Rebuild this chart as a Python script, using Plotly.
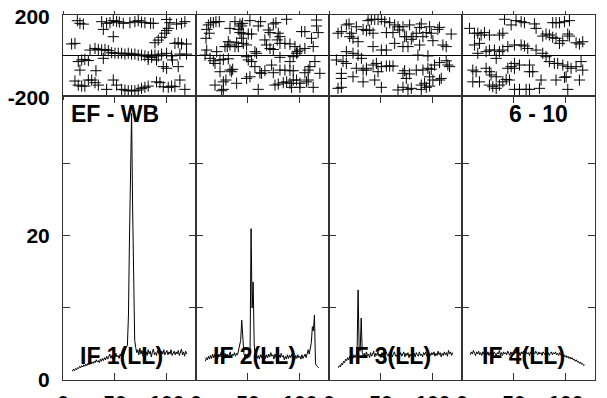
import plotly.graph_objects as go
from plotly.subplots import make_subplots

# ---------------- data ----------------
# Phase (deg) scatter per IF: channel, phase
ph1_ch = [13.8,16.3,19.6,37.2,42,45.2,48.4,51.6,54.2,58,64.4,69.2,72.4,75.6,78.8,84.3,86.9,99.7,102.9,109.3,114.1,117.3,
          38.8,48.4,8.3,11.5,88.5,91.7,94.9,98,99.7,101.3,107.7,110.9,114.1,118.9,
          26,30.8,34,37.2,40.4,43.6,46.8,50,53.2,56.4,59.6,62.8,66,69.2,72.4,75.6,78.8,82,85.3,88.5,91.7,94.9,99.7,104.5,112.5,118.9,
          38.8,14.7,18,21,24.4,16.3,31.7,90,96.5,99.7,105.4,110.9,82,85.3,
          11.5,14.7,18,21,24.4,27.6,30.8,34,42,48.4,51.6,56.4,59.6,62.8,66,69.2,72.4,75.6,78.8,82,90,93.3,96.5,101.3,104.5,107.7,112.5,117.3]
ph1_val = [172,159,155,167,159,162,172,168,165,159,162,167,172,165,162,159,159,178,162,155,159,167,
           129,93,57,60,63,76,90,110,123,134,60,63,57,57,
           27,35,30,27,30,24,14,11,11,11,7,11,7,7,2,2,-2,-6,2,2,-2,7,11,-2,7,7,
           -14,-30,-22,-19,-25,-72,-75,-22,-55,-63,-22,-55,-19,-9,
           -126,-146,-151,-151,-121,-121,-134,-146,-167,-121,-146,-167,-170,-174,-174,-174,-170,-162,-157,-151,-130,-134,-154,-157,-151,-154,-121,-167]

ph2_ch = [11.9,14.1,16.7,19.2,22.4,10.3,12.8,9.6,37.5,42.3,43.9,44.9,51.9,59.9,62.2,69.6,71.2,74.4,76.9,79.2,80.8,87.2,101.6,104.8,116,116,117.6,
          32.7,40.7,42.3,45.5,50.3,53.5,31.1,39.1,43.9,45.5,48.7,27.9,30.1,32.7,37.5,40.7,66.3,67.9,71.2,74.4,78.2,80.8,85.6,90.4,95.2,97.4,100,104.8,111.2,112.8,
          10.3,19.9,56.7,58.3,8.7,13.5,16.7,18.3,23.1,26.3,31.1,48.7,50.3,53.5,56.7,61.5,63.1,72.8,80.8,90.4,93.6,96.8,108,109.6,114.4,119.2,
          23.1,32.7,35.3,34.3,48.7,51.9,66.3,74.4,80.8,85.6,90.4,93.6,104.8,
          18.3,26.3,28.8,39.1,26.3,24.7,59.9,76,79.2,84,87.2,90.4,93.6,96.8,100,92,100,106.4,108,112.8]
ph2_val = [151,162,162,167,167,129,110,85,167,156,146,159,172,146,167,126,113,156,162,110,93,179,118,118,175,146,113,
           134,129,113,110,106,106,68,63,85,60,52,44,44,52,44,44,77,52,35,30,77,60,60,57,44,19,27,35,85,44,
           27,19,19,11,2,-14,-26,-39,-22,-19,-16,-6,-22,-30,-55,-85,-88,-47,-9,-30,-6,11,-72,-55,-30,-88,
           -80,-72,-68,-80,-113,-105,-75,-85,-72,-72,-75,-75,-85,
           -146,-130,-121,-137,-167,-174,-167,-146,-141,-134,-130,-137,-121,-121,-137,-157,-157,-130,-121,-157]

ph3_ch = [8.7,11.9,16.7,19.3,21.5,23.1,19.9,26.3,28,32.8,37.6,40.8,44,47.2,50.4,53.6,58.4,63.2,66.4,36,39.2,42.4,55.2,61.6,63.2,42.4,50.4,55.2,
          16.7,23.1,28,31.2,7.1,13.5,16.7,26.3,32.8,36,42.4,45.6,50.4,55.2,58.4,61.6,11.9,23.1,11.9,32.8,44,11.9,8.7,50.4,66.4,36,47.2,
          68,71.2,72.8,74.4,77.6,79.2,80.8,84,87.2,88.8,90.4,93.6,96.8,98.4,100,104.8,106.4,109.6,112.8,117.6,71.2,76,87.2,85.6,95.2,
          72.8,71.2,77.6,74.4,84,90.4,95.2,98.4,101.6,106.4,112.8,114.4,116,96.8,100,106.4,108,92,88.8,71.2,76,79.2,88.8,93.6,96.8]
ph3_val = [110,118,151,156,110,85,93,142,68,129,172,179,178,178,179,167,162,151,142,123,126,110,113,113,60,44,27,27,
           19,11,2,-14,-22,-30,-39,-63,-72,-72,-47,-39,-55,-52,-52,-52,-88,-105,-113,-130,-121,-157,-162,-157,-170,-63,-80,
           126,142,93,93,151,80,93,110,139,156,93,113,142,110,73,129,139,52,44,106,44,44,52,2,-2,
           -75,-88,-91,-113,-72,-72,-63,-68,-47,-35,-26,-47,-55,-105,-121,-121,-113,-137,-146,-157,-167,-162,-167,-157,-151]

ph4_ch = [7.2,12,15.2,18.4,21.6,26.4,36,39.3,40.9,47.3,52,56.9,60.1,69.7,71.3,87.3,90.5,93.8,98.6,103.4,101.8,77.7,80.9,84.1,87.3,90.5,93.8,97,103.4,109.8,113,116.2,
          12,16.8,23.2,26.4,31.2,36,39.3,44.1,50.5,56.9,60.1,63.3,71.3,77.7,80.9,15.2,
          32.9,50.5,55.3,64.9,84.1,88.9,92.1,97,101.8,105,109.8,114.6,116.2,
          10.4,13.6,23.2,26.4,28,32.9,39.3,42.5,45.7,44.1,47.3,50.5,64.9,68.1,76.1,90.5,98.6,101.8,
          10.4,16.8,26.4,29.6,32.9,36,50.5,55.3,61.7,64.9,74.5,100.2,113]
ph4_val = [134,110,110,101,113,101,101,110,179,151,172,167,162,156,134,162,162,162,167,172,106,96,106,101,90,85,60,73,96,63,57,68,
           52,60,19,27,27,19,27,44,52,52,47,35,27,11,-6,11,
           -14,-39,-47,-47,-30,-39,-39,-47,-55,-63,-55,-30,-72,
           -72,-80,-63,-80,-96,-105,-130,-118,-121,-63,-55,-63,-80,-80,-121,-121,-108,-167,
           -130,-130,-146,-154,-162,-146,-167,-167,-167,-167,-162,-105,-121]

# Amplitude spectra
amp1_ch = list(range(9, 120))
amp1 = [1.2,1.5,1.3,1.6,1.4,1.7,1.6,1.9,1.7,2.0,1.8,
        2.1,1.9,2.2,2.0,2.3,2.1,2.4,2.2,2.5,2.3,
        2.6,2.4,2.8,2.5,2.7,2.4,2.9,2.6,3.0,2.7,
        3.1,2.8,3.3,2.9,3.2,3.6,3.0,3.4,2.9,3.5,
        3.1,3.7,3.2,3.4,3.0,3.6,3.3,3.8,3.4,3.9,
        4.2,4.6,4.8,9.0,20,30,37,24,10,5.5,
        4.5,3.8,4.2,3.5,4.4,3.6,4.1,3.3,4.3,3.7,
        3.9,3.4,4.2,3.6,4.0,3.2,3.9,4.3,3.5,3.8,
        3.4,4.1,3.7,3.9,3.3,4.0,3.6,4.2,3.5,3.8,
        4.1,3.5,3.9,3.6,4.2,3.4,3.8,4.0,3.5,3.9,
        3.6,4.1,3.4,3.8,4.3,3.5,3.9,3.3,4.0,3.6]

amp2_ch = list(range(9, 119))
amp2 = [2.6,3.1,2.8,3.3,2.9,3.4,3.0,3.6,3.1,3.5,2.9,
        3.4,3.0,3.6,3.2,3.8,3.3,3.5,3.0,3.7,3.3,
        3.6,3.1,3.5,3.9,3.2,3.6,3.4,3.8,3.3,3.7,
        3.5,4.2,5.0,5.5,8.3,5.2,3.8,3.2,3.6,3.0,
        3.4,3.1,3.3,21,10,13.6,5.0,3.2,3.6,3.0,
        3.4,2.9,3.5,3.1,3.7,3.2,3.6,3.0,3.5,3.1,
        3.6,3.2,3.8,3.3,3.5,2.9,3.6,3.1,3.4,3.0,
        3.5,3.1,3.7,3.2,3.4,2.8,3.3,2.9,3.5,3.0,
        3.4,3.1,3.6,3.0,3.3,2.8,3.4,3.0,3.5,3.1,
        3.3,2.9,3.5,3.0,3.4,3.6,3.1,3.8,4.2,3.6,
        4.5,5.2,7.4,6.8,9.0,2.3,2.0,1.9,1.7]

amp3_ch = list(range(9, 120))
amp3 = [1.7,2.0,1.8,2.3,2.1,2.6,2.4,2.9,2.7,3.1,2.8,
        3.3,2.9,3.4,3.0,3.5,3.1,3.6,3.8,12.5,4.5,
        4.0,8.6,3.8,3.4,3.7,3.2,3.9,3.4,3.6,3.1,
        3.8,3.3,3.6,4.0,3.2,3.7,3.4,3.9,3.3,3.6,
        3.1,3.8,3.4,3.7,3.2,3.9,3.5,3.3,3.8,3.4,
        3.7,3.2,3.6,3.9,3.3,3.5,3.0,3.7,3.4,3.8,
        3.3,3.6,3.9,3.2,3.7,3.4,3.8,3.1,3.6,3.3,
        3.9,3.4,3.7,3.2,3.8,3.5,3.3,3.9,3.4,3.6,
        3.2,3.8,3.5,3.9,3.3,3.6,3.1,3.7,3.4,3.8,
        3.5,3.9,3.3,3.7,3.4,4.0,3.5,3.8,3.2,3.7,
        3.4,3.9,3.5,3.8,3.3,4.1,3.6,3.9,3.4,3.8]

amp4_ch = list(range(8, 119))
amp4 = [3.5,3.9,3.6,4.1,3.7,3.4,3.9,3.6,4.0,3.5,3.8,3.4,
        3.9,3.6,4.1,3.7,3.5,3.9,3.4,3.8,3.6,4.0,
        3.5,3.9,3.7,3.4,3.8,3.6,4.1,3.5,3.8,3.4,
        3.9,3.6,3.8,3.5,4.0,3.7,3.4,3.9,3.6,3.8,
        3.5,3.9,3.7,4.1,3.6,3.8,3.4,3.9,3.6,4.0,
        3.7,3.5,3.9,3.6,3.8,3.4,3.9,3.7,3.5,3.8,
        3.6,4.0,3.7,3.5,3.9,3.6,3.8,3.4,3.9,3.7,
        3.5,3.9,3.6,3.8,3.4,3.7,3.9,3.5,3.8,3.6,
        3.9,3.5,3.7,3.4,3.8,3.5,3.6,3.3,3.5,3.2,
        3.4,3.1,3.3,3.0,3.2,2.9,3.1,2.8,2.9,2.6,
        2.8,2.5,2.6,2.3,2.5,2.2,2.3,2.0,2.1]

if_labels = ["IF 1(LL)", "IF 2(LL)", "IF 3(LL)", "IF 4(LL)"]
title_left = "EF - WB"
title_right = "6 - 10"
x_ticks = [0, 50, 100]
x_ticktext = ["0", "50", "100"]
amp_ticks = [0, 10, 20, 30]
amp_ticktext = ["0", "", "20", ""]
ph_ticks = [-200, 200]
ph_ticktext = ["-200", "200"]

# ---------------- figure ----------------
phase = [(ph1_ch, ph1_val), (ph2_ch, ph2_val), (ph3_ch, ph3_val), (ph4_ch, ph4_val)]
amps = [(amp1_ch, amp1), (amp2_ch, amp2), (amp3_ch, amp3), (amp4_ch, amp4)]

fig = make_subplots(rows=2, cols=4, row_heights=[0.222, 0.778],
                    horizontal_spacing=0, vertical_spacing=0)

FONT = "Liberation Sans, Arial, sans-serif"
tfont = dict(family=FONT, size=21, color="black", weight="bold")
for i in range(4):
    c = i + 1
    fig.add_trace(go.Scatter(x=phase[i][0], y=phase[i][1], mode="markers",
                             marker=dict(symbol="cross-thin", size=8,
                                         line=dict(color="black", width=1)),
                             showlegend=False, cliponaxis=True), row=1, col=c)
    fig.add_trace(go.Scatter(x=amps[i][0], y=amps[i][1], mode="lines",
                             line=dict(color="black", width=1),
                             showlegend=False), row=2, col=c)

    fig.update_xaxes(range=[0, 128], tickvals=x_ticks, showticklabels=False,
                     ticks="outside", ticklen=3, tickcolor="#333",
                     showline=True, linecolor="#333", linewidth=1, mirror="ticks",
                     showgrid=False, zeroline=False, automargin=False, row=1, col=c)
    fig.update_yaxes(range=[-200, 200], tickvals=ph_ticks, ticktext=ph_ticktext,
                     showticklabels=(c == 1), ticks="",
                     showline=True, linecolor="#333", linewidth=1, mirror=True,
                     showgrid=False, zeroline=True, zerolinecolor="black", zerolinewidth=1,
                     tickfont=tfont, ticklabelstandoff=8, ticklabelshift=2,
                     ticklabeloverflow="allow", automargin=False, row=1, col=c)
    fig.update_xaxes(range=[0, 128], tickvals=x_ticks, ticktext=x_ticktext, showticklabels=True,
                     ticks="inside", ticklen=7, tickcolor="#333",
                     showline=True, linecolor="#333", linewidth=1, mirror="allticks",
                     showgrid=False, zeroline=False,
                     tickfont=tfont, ticklabelstandoff=4, ticklabeloverflow="allow",
                     automargin=False, row=2, col=c)
    fig.update_yaxes(range=[0, 39.4], tickvals=amp_ticks, ticktext=amp_ticktext,
                     showticklabels=(c == 1), ticks="inside", ticklen=7, tickcolor="#333",
                     showline=True, linecolor="#333", linewidth=1, mirror="allticks",
                     showgrid=False, zeroline=False,
                     tickfont=tfont, ticklabelstandoff=8, ticklabeloverflow="allow",
                     automargin=False, row=2, col=c)

ann_font = dict(family=FONT, size=23, color="black", weight="bold")
annotations = [
    dict(text=title_left, x=0.0113, y=0.729, xref="paper", yref="paper",
         xanchor="left", yanchor="middle", showarrow=False, font=ann_font),
    dict(text=title_right, x=0.894, y=0.729, xref="paper", yref="paper",
         xanchor="center", yanchor="middle", showarrow=False, font=ann_font),
]
for i, xl in enumerate([0.0282, 0.2776, 0.5314, 0.7838]):
    annotations.append(dict(text=if_labels[i], x=xl, y=0.0658, xref="paper", yref="paper",
                            xanchor="left", yanchor="middle", showarrow=False, font=ann_font))

# the page adds an 8 px body margin, so the margins are reduced by 8 px to keep
# the panels at the reference pixel positions
fig.update_layout(width=607, height=398, margin=dict(l=55, r=20, t=7, b=26),
                  paper_bgcolor="white", plot_bgcolor="white",
                  annotations=annotations, showlegend=False)

fig.write_html("out.html")
